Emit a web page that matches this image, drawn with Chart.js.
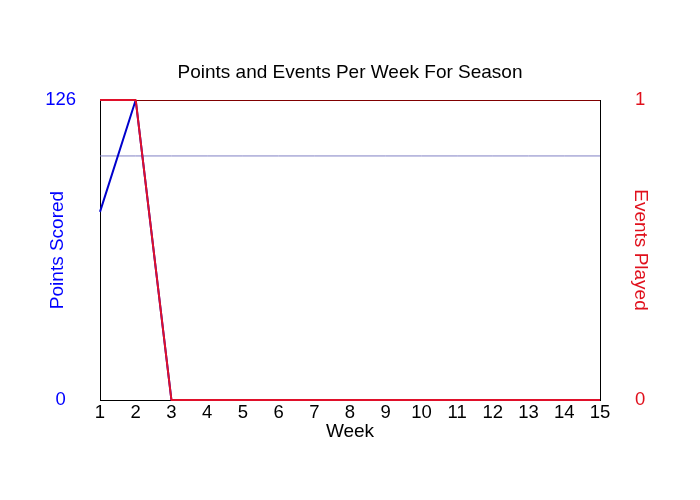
<!DOCTYPE html>
<html lang="en">
<head>
    <meta charset="UTF-8">
    <title>Points and Events Per Week For Season</title>
    <script src="https://cdn.jsdelivr.net/npm/chart.js@4/dist/chart.umd.min.js"></script>
    <style>
        body { margin: 0; background: #fff; }
        canvas { display: block; }
    </style>
</head>
<body>
<canvas id="chart" width="700" height="500"></canvas>
<script>
    const weeks = ['1', '2', '3', '4', '5', '6', '7', '8', '9', '10', '11', '12', '13', '14', '15']
    const pointsScored = [79, 126, 0, 0, 0, 0, 0, 0, 0, 0, 0, 0, 0, 0, 0]
    const eventsPlayed = [1, 1, 0, 0, 0, 0, 0, 0, 0, 0, 0, 0, 0, 0, 0]
    const pointsAverage = 102.5
    const pointsTicks = [0, 126]
    const eventsTicks = [0, 1]

    const blue = '#0000ff'
    const red = '#e0101c'
    const font = 'Liberation Sans, Arial, sans-serif'

    new Chart(document.getElementById('chart'), {
        type: 'line',
        data: {
            labels: weeks,
            datasets: [
                {
                    label: 'Events Played',
                    data: eventsPlayed,
                    yAxisID: 'yEvents',
                    borderColor: '#e0102a',
                    borderWidth: 2,
                    borderJoinStyle: 'round',
                    pointRadius: 0,
                    tension: 0,
                    clip: false,
                    order: 0
                },
                {
                    label: 'Points Scored',
                    data: pointsScored,
                    yAxisID: 'yPoints',
                    borderColor: '#0000cc',
                    borderWidth: 2,
                    borderJoinStyle: 'bevel',
                    pointRadius: 0,
                    tension: 0,
                    clip: false,
                    order: 1
                },
                {
                    label: 'Average',
                    data: weeks.map(() => pointsAverage),
                    yAxisID: 'yPoints',
                    borderColor: '#8080c4',
                    borderWidth: 1,
                    pointRadius: 0,
                    order: 2
                }
            ]
        },
        options: {
            responsive: false,
            animation: false,
            layout: { padding: 0 },
            plugins: {
                legend: { display: false },
                tooltip: { enabled: false },
                title: {
                    display: true,
                    text: 'Points and Events Per Week For Season',
                    color: '#000',
                    font: { family: font, size: 19, weight: 'normal' },
                    padding: { top: 61.5, bottom: 15.7 }
                }
            },
            scales: {
                x: {
                    offset: false,
                    afterFit: (s) => { s.height = 100 },
                    grid: { display: false, drawTicks: false },
                    border: { display: true, color: '#000', width: 1 },
                    ticks: {
                        color: '#000',
                        padding: 2,
                        maxRotation: 0,
                        autoSkip: false,
                        font: { family: font, size: 18.5 }
                    },
                    title: {
                        display: true,
                        text: 'Week',
                        color: '#000',
                        font: { family: font, size: 19 },
                        padding: { top: 0, bottom: 56.6 }
                    }
                },
                yPoints: {
                    position: 'left',
                    min: 0,
                    max: 126,
                    afterFit: (s) => { s.width = 100 },
                    afterBuildTicks: (s) => { s.ticks = pointsTicks.map(v => ({ value: v })) },
                    grid: {
                        drawTicks: false,
                        color: (ctx) => ctx.tick && ctx.tick.value === 126 ? '#800000' : '#000',
                        lineWidth: 1
                    },
                    border: { display: true, color: '#000', width: 1 },
                    ticks: {
                        color: blue,
                        padding: 24,
                        crossAlign: 'center',
                        font: { family: font, size: 18.5 }
                    },
                    title: {
                        display: true,
                        text: 'Points Scored',
                        color: blue,
                        font: { family: font, size: 19 },
                        padding: { top: 46.6, bottom: 0 }
                    }
                },
                yEvents: {
                    position: 'right',
                    min: 0,
                    max: 1,
                    afterFit: (s) => { s.width = 100 },
                    afterBuildTicks: (s) => { s.ticks = eventsTicks.map(v => ({ value: v })) },
                    grid: { display: false, drawTicks: false },
                    border: { display: true, color: '#000', width: 1 },
                    ticks: {
                        color: red,
                        padding: 35,
                        crossAlign: 'center',
                        font: { family: font, size: 18.5 }
                    },
                    title: {
                        display: true,
                        text: 'Events Played',
                        color: red,
                        font: { family: font, size: 19 },
                        padding: { top: 48.6, bottom: 0 }
                    }
                }
            }
        }
    })
</script>
</body>
</html>
